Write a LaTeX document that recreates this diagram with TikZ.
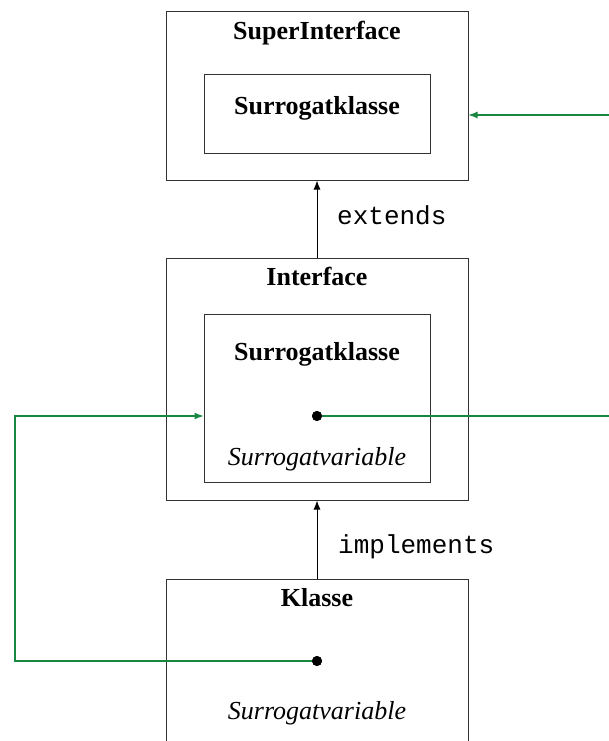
\documentclass[tikz,border=0pt]{standalone}
\usepackage{fontspec}
\setmainfont{Liberation Serif}
\setmonofont{Liberation Mono}
\usetikzlibrary{arrows.meta}
\definecolor{linkgreen}{RGB}{25,135,65}
\begin{document}
\begin{tikzpicture}[x=1pt,y=-1pt,
  box/.style={draw=black!80, line width=1pt, inner sep=0pt},
  title/.style={anchor=base, font=\fontsize{26}{30}\selectfont\bfseries, inner sep=0pt},
  varname/.style={anchor=base, font=\fontsize{26}{30}\selectfont\itshape, inner sep=0pt},
  rel/.style={anchor=base west, font=\fontsize{26}{30}\selectfont\ttfamily, inner sep=0pt},
  inherit/.style={draw=black, line width=1pt, -{Latex[length=9pt,width=7pt]}},
  link/.style={draw=linkgreen, line width=1.1pt},
  linkarrow/.style={link, -{Latex[length=9pt,width=7pt]}},
  dot/.style={circle, fill=black, minimum size=10pt, inner sep=0pt}]
\useasboundingbox (0,0) rectangle (609,741);
\clip (0,0) rectangle (609,741);

% outer boxes
\node[box, minimum width=302pt, minimum height=168pt] (super) at (317,96) {};
\node[box, minimum width=302pt, minimum height=242pt] (iface) at (317,379) {};
\node[box, minimum width=302pt, minimum height=200pt] (klasse) at (317,679) {};

% inner surrogate classes
\node[box, minimum width=226pt, minimum height=78pt] (sinner) at (317,114) {};
\node[box, minimum width=226pt, minimum height=168pt] (iinner) at (317,398) {};

% titles and labels
\node[title] (tsuper) at (317,40) {SuperInterface};
\node[title] (tsinner) at (317,115) {Surrogatklasse};
\node[title] (tiface) at (317,285) {Interface};
\node[title] (tiinner) at (317,360) {Surrogatklasse};
\node[varname] (viinner) at (317,465) {Surrogatvariable};
\node[title] (tklasse) at (317,606) {Klasse};
\node[varname] (vklasse) at (317,719) {Surrogatvariable};

% inheritance arrows
\draw[inherit] (iface.north) -- (super.south);
\node[rel] (lext) at (337,224) {extends};
\draw[inherit] (klasse.north) -- (iface.south);
\node[rel] (limpl) at (338,553) {implements};

% surrogate variables
\node[dot] (diface) at (317,416) {};
\node[dot] (dklasse) at (317,661) {};

% references
\coordinate (rtop) at (609,115);
\coordinate (rmid) at (609,416);
\coordinate (lbot) at (15,661);
\coordinate (ltop) at (15,416);
\draw[linkarrow] (rtop) -- (rtop -| super.east);
\draw[link] (diface.center) -- (rmid);
\draw[linkarrow] (dklasse.center) -- (lbot) -- (ltop) -- (ltop -| iinner.west);
\node[dot] at (diface) {};
\node[dot] at (dklasse) {};
\end{tikzpicture}
\end{document}
